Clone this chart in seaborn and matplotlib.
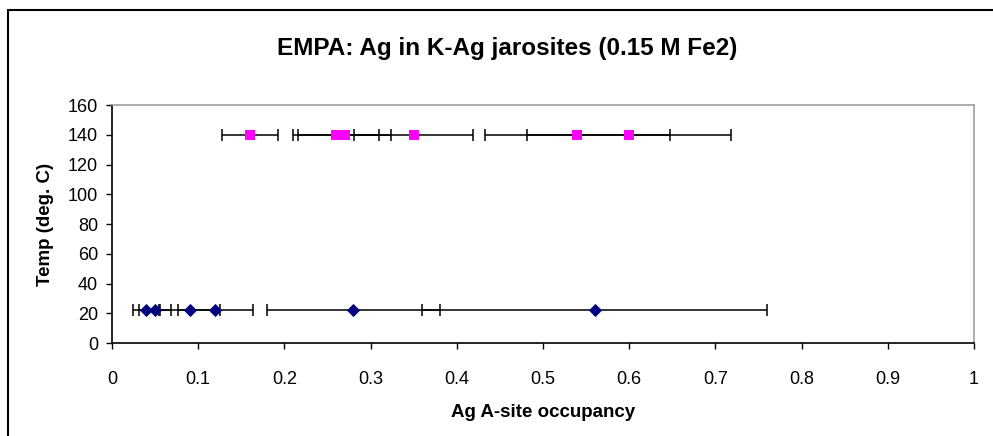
import matplotlib
matplotlib.use("Agg")
import matplotlib.pyplot as plt
import seaborn as sns
import pandas as pd
from matplotlib.lines import Line2D

sns.set_theme(style="white")
plt.rcParams['font.family'] = ['Liberation Sans', 'DejaVu Sans']
plt.rcParams['text.color'] = 'black'

# Data
temp_140_occ = [0.16, 0.26, 0.27, 0.35, 0.54, 0.60]
temp_140_err = [0.032, 0.05, 0.054, 0.069, 0.107, 0.118]
temp_140_T = [140, 140, 140, 140, 140, 140]

temp_22_occ = [0.04, 0.05, 0.09, 0.12, 0.28, 0.56]
temp_22_err = [0.016, 0.019, 0.035, 0.043, 0.10, 0.20]
temp_22_T = [22, 22, 22, 22, 22, 22]

x_ticks = [0, 0.1, 0.2, 0.3, 0.4, 0.5, 0.6, 0.7, 0.8, 0.9, 1]
x_tick_labels = ["0", "0.1", "0.2", "0.3", "0.4", "0.5", "0.6", "0.7", "0.8", "0.9", "1"]
y_ticks = [0, 20, 40, 60, 80, 100, 120, 140, 160]

df140 = pd.DataFrame({"occ": temp_140_occ, "T": temp_140_T, "err": temp_140_err})
df22 = pd.DataFrame({"occ": temp_22_occ, "T": temp_22_T, "err": temp_22_err})

fig = plt.figure(figsize=(9.93, 4.36), dpi=100)
fig.patch.set_facecolor("white")
ax = fig.add_axes([112/993, 93/436, 862/993, 238/436])

# error bars
for d in (df22, df140):
    ax.errorbar(d["occ"], d["T"], xerr=d["err"], fmt="none", ecolor="black",
                elinewidth=1.1, capsize=4.2, capthick=1.1, zorder=2)

sns.scatterplot(data=df22, x="occ", y="T", ax=ax, marker="D", color="#000080",
                s=45, edgecolor="#000080", linewidth=0, zorder=3)
sns.scatterplot(data=df140, x="occ", y="T", ax=ax, marker="s", color="#FF00FF",
                s=60, edgecolor="#FF00FF", linewidth=0, zorder=3)

ax.set_xlim(0, 1)
ax.set_ylim(0, 160)
ax.set_xticks(x_ticks)
ax.set_xticklabels(x_tick_labels)
ax.set_yticks(y_ticks)
ax.tick_params(axis="both", which="major", direction="out", length=4, width=1,
               color="black", labelsize=13, labelcolor="black",
               bottom=True, left=True)
ax.tick_params(axis="x", pad=16)
ax.tick_params(axis="y", pad=6)
for side in ("left", "bottom"):
    ax.spines[side].set_color("black")
    ax.spines[side].set_linewidth(1.2)
for side in ("top", "right"):
    ax.spines[side].set_color("#a0a0a0")
    ax.spines[side].set_linewidth(1.2)
ax.grid(False)

ax.set_xlabel("Ag A-site occupancy", fontsize=13.5, fontweight="bold",
              labelpad=12, color="black")
ax.set_ylabel("Temp (deg. C)", fontsize=13.5, fontweight="bold",
              labelpad=10, color="black")

fig.text(507/993, 1 - 48/436, "EMPA: Ag in K-Ag jarosites (0.15 M Fe2)",
         ha="center", va="center", fontsize=17.5, fontweight="bold", color="black")

# outer chart frame (left and top visible)
fig.add_artist(Line2D([8/993, 8/993], [0, 1 - 10/436], transform=fig.transFigure,
                      color="black", linewidth=1.5))
fig.add_artist(Line2D([8/993, 1], [1 - 10/436, 1 - 10/436], transform=fig.transFigure,
                      color="black", linewidth=1.5))

fig.savefig("out.png", dpi=100, facecolor="white")
